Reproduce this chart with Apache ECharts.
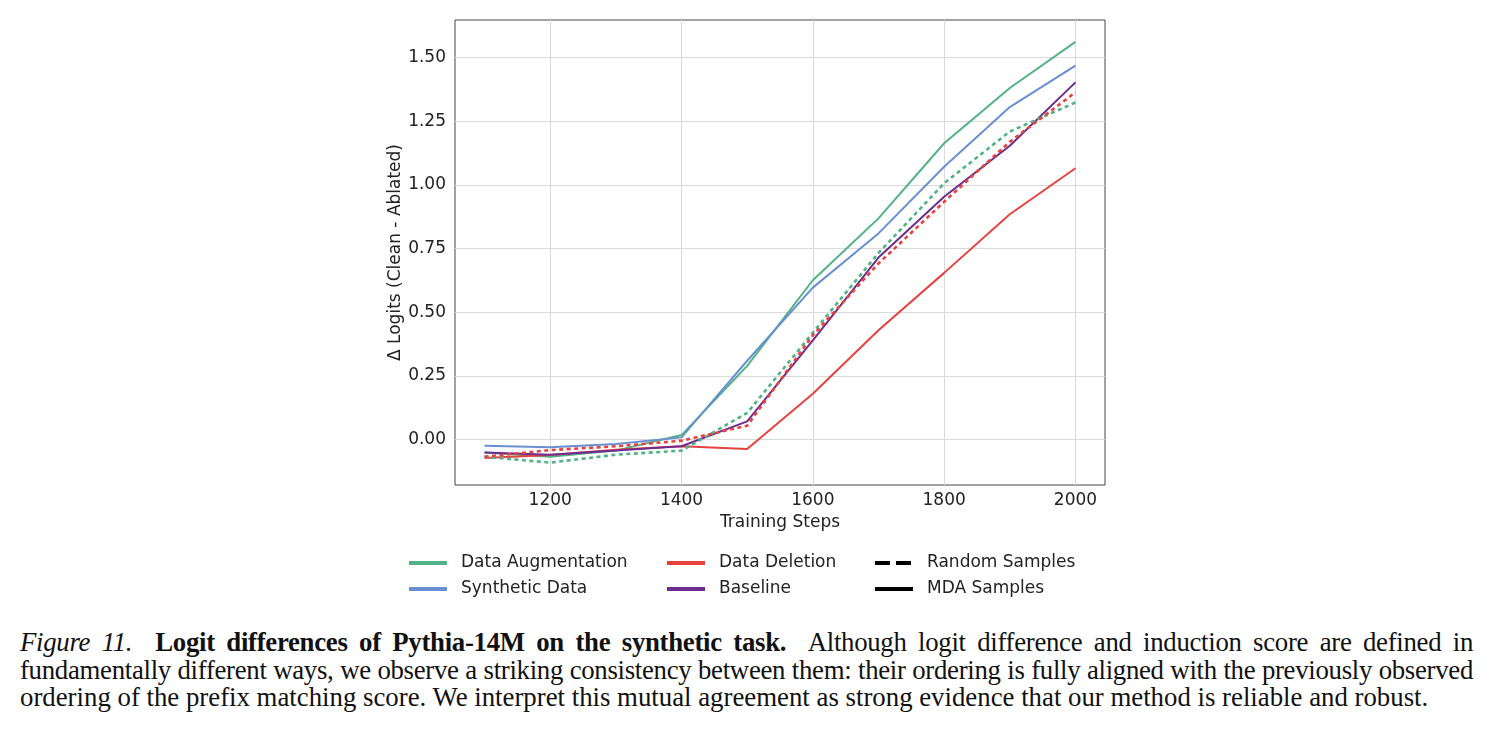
<!DOCTYPE html>
<html>
<head>
<meta charset="utf-8">
<script src="https://cdn.jsdelivr.net/npm/echarts@6/dist/echarts.min.js"></script>
<style>
  html, body { margin: 0; padding: 0; background: #fff; }
  #chart { position: absolute; left: 0; top: 0; width: 1491px; height: 620px; }
  #caption {
    position: absolute; left: 20px; top: 629px; width: 1453px;
    font-family: 'Liberation Serif', 'DejaVu Serif', serif; font-size: 26.8px;
    line-height: 27.5px; color: #111;
  }
  #caption div { white-space: nowrap; }
  #caption .full { text-align: justify; text-align-last: justify; word-spacing: -3px; letter-spacing: -0.3px; }
</style>
</head>
<body>
<div id="chart"></div>
<div id="caption">
  <div class="full"><i>Figure 11.</i>&nbsp; <b>Logit differences of Pythia-14M on the synthetic task.</b>&nbsp; Although logit difference and induction score are defined in</div>
  <div class="full">fundamentally different ways, we observe a striking consistency between them: their ordering is fully aligned with the previously observed</div>
  <div>ordering of the prefix matching score. We interpret this mutual agreement as strong evidence that our method is reliable and robust.</div>
</div>
<script>
  // 训练步数
  let steps = [1100, 1200, 1300, 1400, 1500, 1600, 1700, 1800, 1900, 2000]
  let xTicks = [1200, 1400, 1600, 1800, 2000]
  let yTicks = [0, 0.25, 0.5, 0.75, 1.0, 1.25, 1.5]

  // MDA samples (solid)
  let augMda = [-0.050, -0.067, -0.043, 0.018, 0.290, 0.626, 0.869, 1.164, 1.381, 1.562]
  let synMda = [-0.024, -0.030, -0.017, 0.009, 0.310, 0.597, 0.810, 1.072, 1.306, 1.469]
  let delMda = [-0.072, -0.060, -0.040, -0.026, -0.037, 0.180, 0.430, 0.655, 0.885, 1.066]
  let baseMda = [-0.050, -0.059, -0.043, -0.026, 0.072, 0.390, 0.715, 0.954, 1.154, 1.403]

  // Random samples (dashed)
  let augRand = [-0.067, -0.090, -0.059, -0.043, 0.105, 0.420, 0.733, 1.007, 1.210, 1.324]
  let delRand = [-0.067, -0.041, -0.026, -0.004, 0.055, 0.410, 0.692, 0.934, 1.170, 1.364]

  let colors = {
    aug: '#52b286',
    syn: '#6a8fd0',
    del: '#e8423f',
    base: '#6c2d8e'
  }

  let pair = function (arr) {
    return steps.map((s, i) => [s, arr[i]])
  }

  let lineSeries = function (name, arr, color, dashed) {
    return {
      name: name,
      type: 'line',
      data: pair(arr),
      symbol: 'none',
      color: color,
      lineStyle: {
        color: color,
        width: dashed ? 2.6 : 2,
        type: dashed ? [4, 3.5] : 'solid'
      },
      z: dashed ? 3 : 2
    }
  }

  let font = 'DejaVu Sans'
  let legendText = { fontFamily: font, fontSize: 17, color: '#222', lineHeight: 20 }
  // 图例线段后面留一点空白, 让文字和线段间距与原图一致
  let lineIcon = 'path://M0,0H38V4H0Z M47,0H47.01V4H47Z'
  let dashIcon = 'path://M0,0H15V4H0Z M21,0H36V4H21Z M47,0H47.01V4H47Z'
  let legendBase = {
    top: 548, orient: 'vertical', itemGap: 6,
    itemWidth: 47, itemHeight: 4,
    textStyle: legendText
  }

  let myChart = echarts.init(document.getElementById('chart'))
  myChart.setOption({
    animation: false,
    grid: {
      left: 455,
      top: 20,
      width: 650,
      height: 465,
      show: true,
      borderColor: '#444',
      borderWidth: 1
    },
    xAxis: {
      type: 'value',
      min: 1055,
      max: 2045,
      name: 'Training Steps',
      nameLocation: 'middle',
      nameGap: 25,
      nameTextStyle: { fontFamily: font, fontSize: 17, color: '#222' },
      axisLine: { show: false },
      axisTick: { show: false, customValues: xTicks },
      axisLabel: {
        customValues: xTicks,
        fontFamily: font,
        fontSize: 17,
        color: '#222',
        margin: 7,
        formatter: function (v) { return String(v) }
      },
      splitLine: { show: true, lineStyle: { color: '#dadada', width: 1 } }
    },
    yAxis: {
      type: 'value',
      min: -0.178,
      max: 1.648,
      name: 'Δ Logits (Clean - Ablated)',
      nameLocation: 'middle',
      nameGap: 50,
      nameTextStyle: { fontFamily: font, fontSize: 17, color: '#222' },
      axisLine: { show: false },
      axisTick: { show: false, customValues: yTicks },
      axisLabel: {
        customValues: yTicks,
        fontFamily: font,
        fontSize: 17,
        color: '#222',
        margin: 9,
        formatter: function (v) { return v.toFixed(2) }
      },
      splitLine: { show: true, lineStyle: { color: '#dadada', width: 1 } }
    },
    legend: [
      Object.assign({}, legendBase, {
        left: 404, icon: lineIcon,
        data: ['Data Augmentation', 'Synthetic Data']
      }),
      Object.assign({}, legendBase, {
        left: 662, icon: lineIcon,
        data: ['Data Deletion', 'Baseline']
      }),
      Object.assign({}, legendBase, {
        left: 870,
        data: [
          { name: 'Random Samples', icon: dashIcon },
          { name: 'MDA Samples', icon: lineIcon }
        ]
      })
    ],
    series: [
      lineSeries('Data Augmentation', augMda, colors.aug, false),
      lineSeries('Synthetic Data', synMda, colors.syn, false),
      lineSeries('Data Deletion', delMda, colors.del, false),
      lineSeries('Baseline', baseMda, colors.base, false),
      lineSeries('Data Augmentation ', augRand, colors.aug, true),
      lineSeries('Data Deletion ', delRand, colors.del, true),
      { name: 'Random Samples', type: 'line', data: [], color: '#000', symbol: 'none' },
      { name: 'MDA Samples', type: 'line', data: [], color: '#000', symbol: 'none' }
    ]
  })
</script>
</body>
</html>
